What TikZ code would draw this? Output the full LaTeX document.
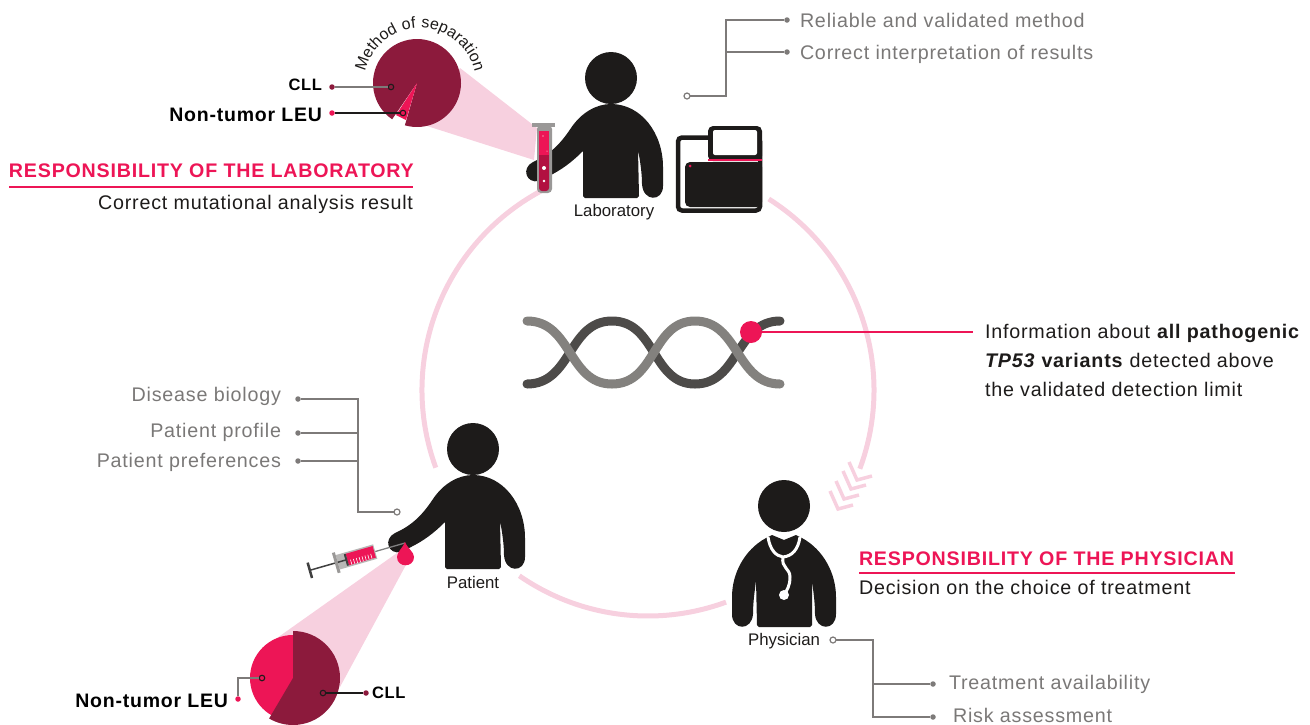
\documentclass[tikz,border=0pt]{standalone}
\usepackage{fontspec}
\setmainfont[LetterSpace=4]{Liberation Sans}
\newfontfamily\figfont{Liberation Sans}
\usetikzlibrary{calc,positioning,decorations.text}
\definecolor{hotred}{HTML}{ED1556}
\definecolor{winered}{HTML}{8C1A3C}
\definecolor{softpink}{HTML}{F7D0DF}
\definecolor{figblack}{HTML}{1D1B1A}
\definecolor{leadgray}{HTML}{7D7A79}
\definecolor{textgray}{HTML}{7A7877}
\definecolor{tubegray}{HTML}{9A9897}
\definecolor{helixdark}{HTML}{4D4B49}
\definecolor{helixlight}{HTML}{83817E}
\tikzset{
	every node/.style={inner sep=0pt, outer sep=0pt},
	ring/.style={softpink, line width=5pt},
	cone/.style={fill=softpink, draw=none},
	figure/.style={fill=figblack, draw=none},
	lead/.style={leadgray, line width=1.3pt},
	leadblack/.style={figblack, line width=1.3pt},
	dot/.style={circle, fill=leadgray, minimum size=5.5pt},
	opendot/.style={circle, draw=leadgray, fill=white, line width=1.2pt, minimum size=6pt},
	reddot/.style={circle, fill=hotred, minimum size=5.5pt},
	winedot/.style={circle, fill=winered, minimum size=5.5pt},
	pieopen/.style={circle, draw=figblack, line width=1.1pt, minimum size=5.5pt},
	grayitem/.style={textgray, font=\fontsize{19.7}{22}\selectfont},
	infoitem/.style={figblack, font=\fontsize{19.7}{22}\selectfont},
	boldlabel/.style={black, font=\fontsize{19.5}{22}\selectfont\bfseries},
	celllabel/.style={black, font=\fontsize{16.5}{20}\selectfont\bfseries},
	headline/.style={hotred, font=\fontsize{19.65}{22}\selectfont\bfseries},
	headrule/.style={hotred, line width=2.6pt},
	figlabel/.style={figblack, font=\figfont\fontsize{16.8}{20}\selectfont},
	person/.pic={
		\fill[figure] (0,0) circle (26);
		\fill[figure] (0,26) .. controls (30,26) and (52,55) .. (52,89) -- (52,108)
			.. controls (52,124) and (32,124) .. (31,106)
			.. controls (31,95) and (29,82) .. (27,72) -- (28,118) -- (26,120) -- (-26,120) -- (-28,118) -- (-28,73)
			.. controls (-40,85) and (-50,92) .. (-62,98) -- (-72,103)
			.. controls (-85,106) and (-90,90) .. (-78,84)
			.. controls (-60,76) and (-50,65) .. (-40,50)
			.. controls (-30,35) and (-15,26) .. (0,26) -- cycle;
	},
}

\begin{document}
\begin{tikzpicture}[x=1pt,y=-1pt]
	\useasboundingbox (0,0) rectangle (1310,724);
	\coordinate (centre) at (648,390);

	\draw[ring] ($(centre)+(-57.7:226)$) arc[start angle=-57.7, end angle=20.4, radius=226];
	\draw[ring] ($(centre)+(69.8:226)$) arc[start angle=69.8, end angle=124.7, radius=226];
	\draw[ring] ($(centre)+(159.9:226)$) arc[start angle=159.9, end angle=241.6, radius=226];
	\foreach \vx/\vy in {857/480,851/489,844/499,838/509}
		\draw[softpink, line width=3.5pt] (\vx-8,\vy-18) -- (\vx,\vy) -- (\vx+15,\vy-4);

	\fill[cone] (460,68) -- (537,128) -- (534,160) -- (427,126) -- cycle;
	\coordinate (labpie) at (417,83);
	\fill[winered] (labpie) -- ++(124.4:44) arc[start angle=124.4, end angle=466, radius=44] -- cycle;
	\fill[hotred] (labpie) -- (406,120) -- (396,115) -- cycle;
	\path[decorate, decoration={text along path, text align=center,
		text={|\fontsize{16}{20}\selectfont\color{figblack}|Method of separation}}]
		(420,84) ++(173:56) arc[start angle=173, end angle=367, radius=56];

	\pic (labfigure) at (611,78) {person};
	\node[figlabel] (lablabel) at (614,212) {Laboratory};

	\fill[tubegray] (532,123) rectangle (555,127);
	\fill[tubegray, rounded corners=4pt] (537,125) -- (552,125) -- (552,193) -- (537,193) -- cycle;
	\fill[hotred!75!black, rounded corners=3pt] (539,150) -- (549,150) -- (549,191) -- (539,191) -- cycle;
	\fill[hotred] (539,131) rectangle (549,155);
	\foreach \tx/\ty/\tr in {543/136/0.6,544/168/2,544/181/1.3,547/151/0.5}
		\fill[white] (\tx,\ty) circle (\tr);

	\draw[figblack, line width=4.5pt, rounded corners=4pt, fill=white] (678,137.5) rectangle (760,210.5);
	\fill[figure, rounded corners=5pt] (708,126) -- (762,126) -- (762,161) -- (708,161) -- cycle;
	\fill[white, rounded corners=2pt] (713,130) rectangle (757,155);
	\fill[figure, rounded corners=5pt] (685,162) -- (762,162) -- (762,207) -- (685,207) -- cycle;
	\draw[hotred, line width=2pt] (708,160) -- (762,160);
	\fill[hotred] (690,166) circle (1.5);

	\node[dot] (labdota) at (787,20) {};
	\node[dot] (labdotb) at (787,52) {};
	\node[opendot] (labopen) at (687,96) {};
	\coordinate (labbus) at (726,20);
	\draw[lead] (labopen) -| (labbus) -- (labdota);
	\draw[lead] (labdotb) -- (labdotb -| labbus);
	\node[grayitem, anchor=west] (reliable) at (800,20) {Reliable and validated method};
	\node[grayitem, anchor=west] (correct) at (800,54) {Correct interpretation of results};

	\node[celllabel, anchor=east] (labcll) at (322,84.5) {CLL};
	\node[boldlabel, anchor=east] (lableu) at (322,114.5) {Non-tumor LEU};
	\node[winedot] (labclldot) at (332,87) {};
	\node[reddot] (lableudot) at (332,113) {};
	\node[pieopen] (labcllopen) at (391,87) {};
	\node[pieopen] (lableuopen) at (403,113) {};
	\draw[lead] (labclldot) -- (labcllopen);
	\draw[leadblack] (lableudot) -- (lableuopen);

	\node[headline, anchor=west] (labhead) at (9,170.5) {RESPONSIBILITY OF THE LABORATORY};
	\coordinate (labrulea) at (9,187);
	\coordinate (labruleb) at (413,187);
	\draw[headrule] (labrulea) -- (labruleb);
	\node[infoitem, anchor=east] (labtext) at (413,204) {Correct mutational analysis result};

	\draw[line width=9pt, line cap=round, color=helixdark]
		(527,384) .. controls (572,384) and (568,321) .. (612,321)
		.. controls (656,321) and (652,384) .. (695,384)
		.. controls (739,384) and (736,321) .. (780,321);
	\draw[line width=9pt, line cap=round, color=helixlight]
		(527,321) .. controls (572,321) and (568,384) .. (612,384)
		.. controls (656,384) and (652,321) .. (695,321)
		.. controls (739,321) and (736,384) .. (780,384);
	\node[circle, fill=hotred, minimum size=22pt] (variant) at (751,332) {};
	\coordinate (variantend) at (973,332);
	\draw[hotred, line width=2.4pt] (variant) -- (variantend);
	\node[infoitem, anchor=west, align=left, font=\fontsize{19.7}{29}\selectfont] (variantinfo) at (985,360)
		{Information about \textbf{all pathogenic}\\ \textbf{\textit{TP53} variants} detected above\\ the validated detection limit};

	\fill[cone] (277,638) -- (397,553) -- (407,563) -- (340,687) -- cycle;
	\coordinate (patpie) at (293,678);
	\fill[hotred] (patpie) circle (43);
	\fill[winered] (patpie) -- ++(-90:47) arc[start angle=-90, end angle=120.5, radius=47] -- cycle;

	\pic (patfigure) at (473,449) {person};
	\node[figlabel] (patlabel) at (473,582) {Patient};

	\begin{scope}[shift={(405,543)}, rotate=16]
		\draw[gray, line width=1.3pt] (-31,0) -- (0,0);
		\fill[tubegray!70] (-70,-7.5) rectangle (-31,7.5);
		\draw[black!75, line width=1.5pt] (-99,0) -- (-60,0);
		\draw[black!75, line width=2.5pt] (-99,-8) -- (-99,8);
		\fill[tubegray] (-73,-10.5) rectangle (-70,10.5);
		\fill[hotred] (-60,-6) rectangle (-32,6);
		\fill[black!75] (-62,-6) rectangle (-60,6);
		\foreach \tickx in {-57,-54,...,-34}
			\draw[white, line width=0.6pt] (\tickx,1) -- (\tickx,6);
	\end{scope}
	\fill[hotred] (405,542) .. controls (408,549) and (414,552) .. (414,557)
		.. controls (414,568) and (397,568) .. (397,557)
		.. controls (397,552) and (402,549) .. (405,542) -- cycle;

	\node[dot] (patdota) at (298,399) {};
	\node[dot] (patdotb) at (298,433) {};
	\node[dot] (patdotc) at (298,461) {};
	\node[opendot] (patopen) at (397,512) {};
	\coordinate (patbus) at (358,399);
	\draw[lead] (patdota) -- (patbus) |- (patopen);
	\draw[lead] (patdotb) -- (patdotb -| patbus);
	\draw[lead] (patdotc) -- (patdotc -| patbus);
	\node[grayitem, anchor=east] (biology) at (281,396) {Disease biology};
	\node[grayitem, anchor=east] (profile) at (281,432) {Patient profile};
	\node[grayitem, anchor=east] (prefs) at (281,462) {Patient preferences};

	\node[boldlabel, anchor=east] (patleu) at (228,700.5) {Non-tumor LEU};
	\node[celllabel, anchor=west] (patcll) at (372,692.5) {CLL};
	\node[reddot] (patleudot) at (238,699) {};
	\node[pieopen] (patleuopen) at (262,678) {};
	\node[winedot] (patclldot) at (366,693) {};
	\node[pieopen] (patcllopen) at (323,693) {};
	\draw[lead] (patleudot) |- (patleuopen);
	\draw[leadblack] (patclldot) -- (patcllopen);

	\begin{scope}[shift={(784,506)}]
		\fill[figure] (0,0) circle (26);
		\fill[figure] (-12,29) -- (0,34) -- (12,29) -- (18,32)
			.. controls (40,44) and (52,68) .. (52,91) -- (52,108)
			.. controls (52,125) and (32,125) .. (31,108)
			.. controls (31,95) and (29,84) .. (28,74) -- (28,119) -- (26,121) -- (-25,121) -- (-27,119) -- (-28,74)
			.. controls (-29,84) and (-31,95) .. (-31,108)
			.. controls (-32,125) and (-52,125) .. (-52,108) -- (-52,91)
			.. controls (-52,68) and (-40,44) .. (-18,32) -- cycle;
		\draw[white, line width=3pt] (-16,31) .. controls (-14,44) and (-8,50) .. (-1,51)
			.. controls (8,50) and (14,44) .. (16,31);
		\draw[white, line width=3pt] (-1,51) .. controls (-3,62) and (6,62) .. (6,71)
			.. controls (6,80) and (3,84) .. (0,89);
		\fill[white] (0,89) circle (5);
	\end{scope}
	\node[figlabel] (phylabel) at (784,641) {Physician};

	\node[opendot] (phyopen) at (833,640) {};
	\node[dot] (phydota) at (933,684) {};
	\node[dot] (phydotb) at (933,717) {};
	\coordinate (phybus) at (873,717);
	\draw[lead] (phyopen) -| (phybus) -- (phydotb);
	\draw[lead] (phydota) -- (phydota -| phybus);
	\node[grayitem, anchor=west] (availability) at (949,684) {Treatment availability};
	\node[grayitem, anchor=west] (risk) at (953,715.5) {Risk assessment};

	\node[headline, anchor=west] (phyhead) at (859,558.5) {RESPONSIBILITY OF THE PHYSICIAN};
	\coordinate (phyrulea) at (859,573);
	\coordinate (phyruleb) at (1235,573);
	\draw[headrule] (phyrulea) -- (phyruleb);
	\node[infoitem, anchor=west] (phytext) at (859,587.5) {Decision on the choice of treatment};
\end{tikzpicture}
\end{document}
